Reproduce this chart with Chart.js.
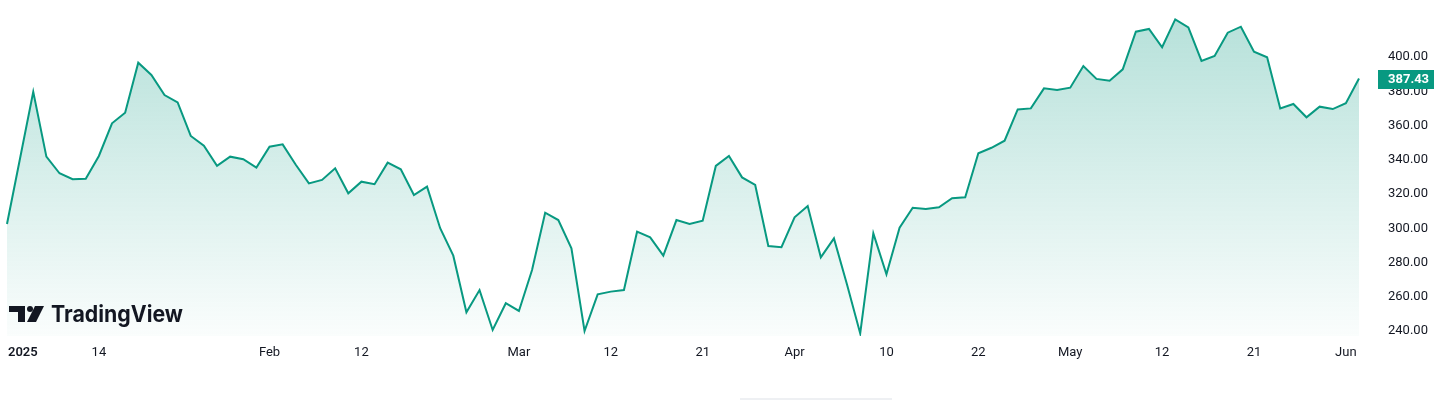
<!DOCTYPE html>
<html>
<head>
<meta charset="utf-8">
<title>Price chart</title>
<script src="https://cdn.jsdelivr.net/npm/chart.js@4.4.1/dist/chart.umd.min.js"></script>
<style>
  html, body { margin: 0; padding: 0; background: #ffffff; }
  #wrap { position: relative; width: 1452px; height: 400px; overflow: hidden; }
  #bar { position: absolute; left: 740px; top: 398px; width: 152px; height: 2px; background: #eef0f3; }
</style>
</head>
<body>
<div id="wrap">
  <canvas id="chart" width="1452" height="400"></canvas>
  <div id="bar"></div>
</div>
<script>
// trading days, Jan 2 -> Jun 3 2025
const janDays = [2,3,6,7,8,10,13,14,15,16,17,21,22,23,24,27,28,29,30,31];
const febDays = [3,4,5,6,7,10,11,12,13,14,18,19,20,21,24,25,26,27,28];
const marDays = [3,4,5,6,7,10,11,12,13,14,17,18,19,20,21,24,25,26,27,28,31];
const aprDays = [1,2,3,4,7,8,9,10,11,14,15,16,17,21,22,23,24,25,28,29,30];
const mayDays = [1,2,5,6,7,8,9,12,13,14,15,16,19,20,21,22,23,27,28,29,30];
const junDays = [2,3];

// daily closes
const closes = [
  302.5, 341.0, 379.7, 341.8, 332.1, 328.6, 328.9, 342.2, 361.3, 367.5,
  396.7, 389.5, 377.8, 373.5, 353.9, 348.2, 336.5, 341.8, 340.3, 335.4,
  347.6, 349.0, 337.1, 326.2, 328.2, 335.0, 320.4, 327.2, 325.7, 338.3,
  334.4, 319.4, 324.3, 300.0, 284.0, 250.9, 263.9, 240.6, 256.2, 251.7,
  275.6, 309.1, 304.8, 288.3, 240.0, 261.4, 263.0, 263.9, 298.0, 294.7,
  284.0, 304.8, 302.5, 304.4, 336.4, 342.2, 329.7, 325.3, 289.6, 288.9,
  306.4, 313.0, 283.0, 294.1, 267.0, 238.6, 297.0, 273.1, 300.3, 312.0,
  311.2, 312.2, 317.5, 318.1, 343.8, 347.0, 351.1, 369.4, 370.0, 381.7,
  380.7, 382.1, 394.7, 387.2, 386.2, 392.8, 414.8, 416.4, 405.7, 422.0,
  417.3, 397.7, 400.6, 414.2, 417.7, 403.1, 399.8, 370.0, 372.6, 364.8,
  371.0, 369.6, 373.0, 387.43
];

const tickDates = ['2025-01-02','2025-01-14','2025-02-03','2025-02-12','2025-03-03','2025-03-12',
  '2025-03-21','2025-04-01','2025-04-10','2025-04-22','2025-05-01','2025-05-12','2025-05-21','2025-06-02'];
const tickText = ['2025','14','Feb','12','Mar','12','21','Apr','10','22','May','12','21','Jun'];
const priceTicks = [240, 260, 280, 300, 320, 340, 360, 380, 400];

const days = [];
[['01', janDays], ['02', febDays], ['03', marDays], ['04', aprDays], ['05', mayDays], ['06', junDays]]
  .forEach(([m, list]) => list.forEach(d => days.push('2025-' + m + '-' + String(d).padStart(2, '0'))));

const GREEN = '#089981';
const TEXT = '#131722';
const FONT = 'Roboto, sans-serif';

// year label at the far left, drawn bold and left aligned like TradingView
const yearLabel = {
  id: 'yearLabel',
  afterDraw(chart) {
    const {ctx, scales: {x}} = chart;
    ctx.save();
    ctx.fillStyle = TEXT;
    ctx.font = '600 13px ' + FONT;
    ctx.textAlign = 'left';
    ctx.textBaseline = 'middle';
    ctx.fillText(tickText[0], x.getPixelForValue(0) + 1, x.top + 9 + 13 * 1.2 / 2);
    ctx.restore();
  }
};

// last price tag on the price axis
const lastPrice = {
  id: 'lastPrice',
  afterDraw(chart) {
    const {ctx, chartArea, scales: {y}} = chart;
    const v = closes[closes.length - 1];
    const py = Math.round(y.getPixelForValue(v));
    ctx.save();
    ctx.fillStyle = GREEN;
    ctx.fillRect(chartArea.right + 19, py - 9, 56, 19);
    ctx.fillStyle = '#ffffff';
    ctx.font = 'bold 13px ' + FONT;
    ctx.textAlign = 'left';
    ctx.textBaseline = 'middle';
    ctx.fillText(v.toFixed(2), chartArea.right + 29, py + 1);
    ctx.restore();
  }
};

// watermark in the bottom-left corner
const logo = {
  id: 'logo',
  afterDatasetsDraw(chart) {
    const {ctx, chartArea} = chart;
    const lx = chartArea.left + 2, ty = chartArea.bottom - 30;
    ctx.save();
    ctx.fillStyle = TEXT;
    ctx.fillRect(lx, ty, 16, 6);
    ctx.fillRect(lx + 9, ty, 7, 16);
    ctx.beginPath();
    ctx.arc(lx + 21, ty + 3, 3, 0, Math.PI * 2);
    ctx.fill();
    ctx.beginPath();
    ctx.moveTo(lx + 26, ty);
    ctx.lineTo(lx + 35, ty);
    ctx.lineTo(lx + 27, ty + 16);
    ctx.lineTo(lx + 18, ty + 16);
    ctx.closePath();
    ctx.fill();
    ctx.font = '700 23px Inter, sans-serif';
    ctx.textBaseline = 'alphabetic';
    const w = ctx.measureText('TradingView').width;
    const sx = Math.min(1, 132 / w);
    ctx.translate(lx + 42, ty + 16);
    ctx.scale(sx, 1);
    ctx.fillText('TradingView', 0, 0);
    ctx.restore();
  }
};

const ctx = document.getElementById('chart').getContext('2d');
new Chart(ctx, {
  type: 'line',
  data: {
    labels: days,
    datasets: [{
      data: closes,
      borderColor: GREEN,
      borderWidth: 2,
      pointRadius: 0,
      tension: 0,
      fill: 'start',
      backgroundColor: (c) => {
        const area = c.chart.chartArea;
        if (!area) return 'rgba(8,153,129,0.15)';
        const g = c.chart.ctx.createLinearGradient(0, area.top, 0, area.bottom);
        g.addColorStop(0, 'rgba(8,153,129,0.30)');
        g.addColorStop(1, 'rgba(8,153,129,0.02)');
        return g;
      }
    }]
  },
  options: {
    animation: false,
    responsive: false,
    layout: { padding: { top: 10, left: 7, right: 0, bottom: 0 } },
    plugins: { legend: { display: false }, tooltip: { enabled: false } },
    scales: {
      x: {
        grid: { display: false, drawTicks: false },
        border: { display: false },
        ticks: {
          autoSkip: false,
          maxRotation: 0,
          padding: 9,
          color: TEXT,
          font: { family: FONT, size: 13 },
          callback: (val, i) => {
            const k = tickDates.indexOf(days[i]);
            return k > 0 ? tickText[k] : '';
          }
        },
        afterFit: (s) => { s.height = 64; s.paddingLeft = 0; s.paddingRight = 0; }
      },
      y: {
        position: 'right',
        min: 237.08,
        max: 427.45,
        grid: { display: false, drawTicks: false },
        border: { display: false },
        afterBuildTicks: (s) => { s.ticks = priceTicks.map(v => ({ value: v })); },
        ticks: {
          padding: 29,
          crossAlign: 'near',
          color: TEXT,
          font: { family: FONT, size: 13 },
          callback: (v) => Number(v).toFixed(2)
        },
        afterFit: (s) => { s.width = 93; s.paddingTop = 0; s.paddingBottom = 0; }
      }
    }
  },
  plugins: [yearLabel, lastPrice, logo]
});
</script>
</body>
</html>
